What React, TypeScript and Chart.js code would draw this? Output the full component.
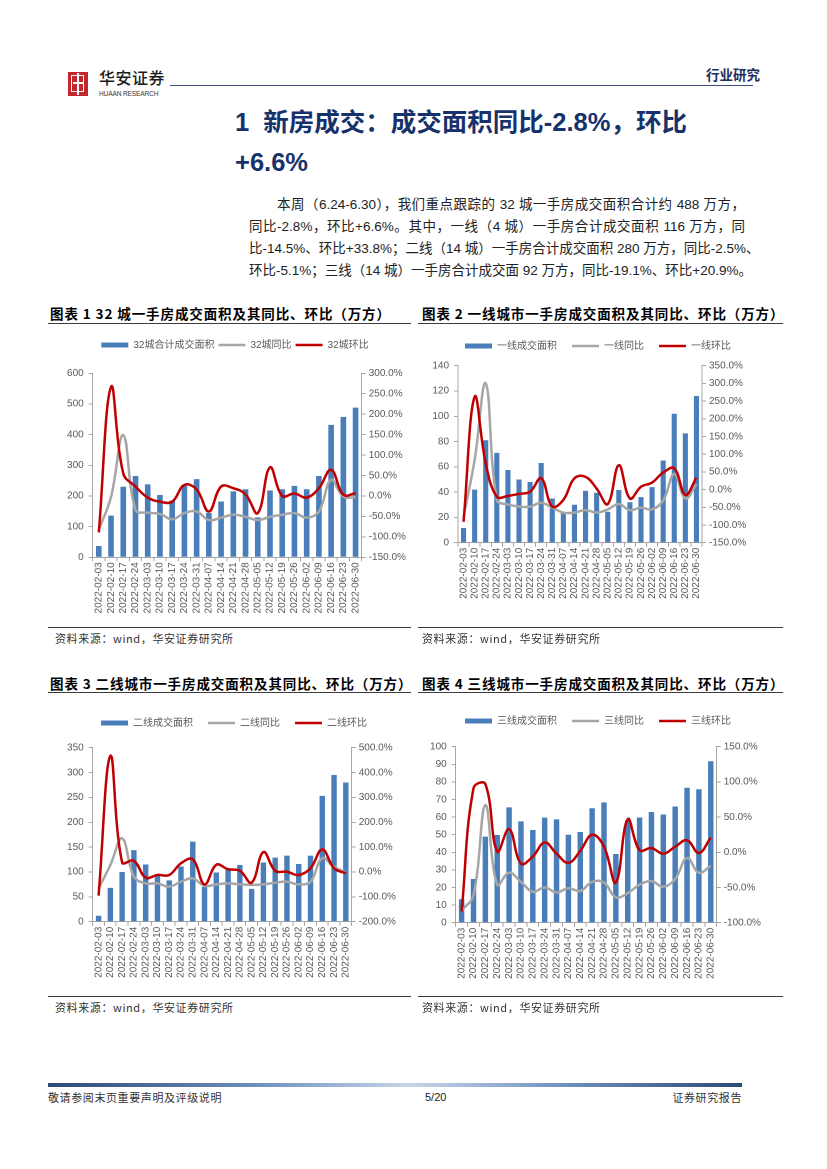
import React, { useEffect, useRef } from "react";
import { Chart, registerables } from "chart.js";
Chart.register(...registerables);

const dates = [
  "2022-02-03", "2022-02-10", "2022-02-17", "2022-02-24", "2022-03-03", "2022-03-10",
  "2022-03-17", "2022-03-24", "2022-03-31", "2022-04-07", "2022-04-14", "2022-04-21",
  "2022-04-28", "2022-05-05", "2022-05-12", "2022-05-19", "2022-05-26", "2022-06-02",
  "2022-06-09", "2022-06-16", "2022-06-23", "2022-06-30",
];

const city32Area = [37, 136, 230, 265, 238, 203, 185, 236, 255, 145, 182, 215, 222, 130, 218, 222, 233, 222, 265, 432, 458, 488];
const city32Yoy = [-83, -2, 149, -34, -41, -44, -57, -42, -38, -59, -53, -46, -51, -59, -51, -46, -42, -53, -38, 39, -2, -2.8];
const city32Mom = [-89, 267, 55, 23, -4, -14, -14, 27, 16, -38, 23, 19, 4, -42, 70, 0, 6, -4, 19, 64, 3, 6.6];

const tier1Area = [11.6, 42, 81, 71, 57.5, 50, 48, 63, 35, 24, 30, 41, 39.5, 24.5, 41.7, 32, 36, 44, 65, 102, 86.5, 116];
const tier1Yoy = [-77, 84, 300, -29, -42, -48, -48, -37, -51, -65, -65, -58, -65, -56, -41, -58, -51, -56, -31, 44, -25, 15];
const tier1Mom = [-91, 262, 74, -20, -18, -12, -6, 32, -48, -29, 32, 36, 3, -41, 69, -25, 8, 20, 48, 60, -15, 33.8];

const tier2Area = [12, 68, 100, 144, 115, 95, 83, 111, 161, 70, 99, 107, 114, 66, 119, 129, 133, 116, 133, 253, 295, 280];
const tier2Yoy = [-66, 28, 135, -19, -46, -46, -59, -39, -26, -56, -50, -46, -50, -52, -50, -43, -39, -50, -39, 55, 21, -2.5];
const tier2Mom = [-95, 467, 39, 45, -23, -12, -12, 35, 51, -50, 29, 11, 5, -43, 80, 5, 1, -12, 15, 91, 15, -5.1];

const tier3Area = [13.3, 24.8, 48.9, 49.8, 65.5, 57.6, 52.7, 59.7, 58.7, 50, 51.5, 65, 68.4, 39, 58, 59.8, 62.9, 61.5, 66, 76.7, 75.8, 91.7];
const tier3Yoy = [-83, -61, 67, -46, -29, -42, -56, -50, -57, -51, -55, -42, -43, -64, -58, -46, -41, -49, -38, -8, -29, -19.1];
const tier3Mom = [-84, 91, 97, 1, 33, -16, -6, 14, -2, -15, 2, 25, 8, -43, 47, 3, 6, -2, 8, 17, -1, 20.9];

const legend1 = ["32城合计成交面积", "32城同比", "32城环比"];
const legend2 = ["一线成交面积", "一线同比", "一线环比"];
const legend3 = ["二线成交面积", "二线同比", "二线环比"];
const legend4 = ["三线成交面积", "三线同比", "三线环比"];

const FONT = "'Liberation Sans', 'Noto Sans CJK SC', sans-serif";
const CJK = "'Noto Sans CJK SC', 'Liberation Sans', sans-serif";
const BAR = "#4a7ebb";
const RED = "#c00000";
const GRAY = "#a6a6a6";
const AXIS = "#a6a6a6";
const TICK = "#595959";

type Props = {
  left: number; right: number; plotLeft: number; plotRight: number;
  plotTop: number; plotBottom: number; legendY: number; legendPad: number;
  names: string[]; bars: number[]; yoy: number[]; mom: number[];
  lMax: number; lStep: number; rMin: number; rMax: number; rStep: number;
};

function ComboChart(p: Props) {
  const ref = useRef<HTMLCanvasElement>(null);
  const T = Math.round(p.legendY - p.legendPad - 5);
  const w = Math.round(p.right - p.left);
  const h = Math.round(p.plotBottom + 62 - T);
  useEffect(() => {
    const extra = p.plotTop - (T + p.legendPad + 20);
    const leftW = p.plotLeft - p.left;
    const rightW = p.left + w - p.plotRight;
    const xH = T + h - p.plotBottom;
    const gap = {
      id: "legendGap",
      beforeInit(chart: any) {
        const lg = chart.legend;
        if (!lg) return;
        const orig = lg.fit;
        lg.fit = function () {
          orig.call(this);
          this.height += extra;
        };
      },
    };
    const tickFont = { family: FONT, size: 10 };
    const chart = new Chart(ref.current as HTMLCanvasElement, {
      type: "bar",
      data: {
        labels: dates,
        datasets: [
          {
            type: "bar", label: p.names[0], data: p.bars, yAxisID: "yL",
            backgroundColor: BAR, borderWidth: 0, barPercentage: 0.5, categoryPercentage: 0.92,
            order: 3, pointStyle: "rect",
          } as any,
          {
            type: "line", label: p.names[1], data: p.yoy, yAxisID: "yR",
            borderColor: GRAY, backgroundColor: GRAY, borderWidth: 2.5, pointRadius: 0,
            pointBorderWidth: 2.5, pointBorderColor: GRAY, pointBackgroundColor: GRAY,
            tension: 0.4, order: 2, pointStyle: "line",
          } as any,
          {
            type: "line", label: p.names[2], data: p.mom, yAxisID: "yR",
            borderColor: RED, backgroundColor: RED, borderWidth: 2.5, pointRadius: 0,
            pointBorderWidth: 2.5, pointBorderColor: RED, pointBackgroundColor: RED,
            tension: 0.4, order: 1, pointStyle: "line",
          } as any,
        ],
      },
      options: {
        responsive: false,
        animation: false,
        devicePixelRatio: 2,
        layout: { padding: 0 },
        plugins: {
          title: { display: false },
          tooltip: { enabled: false },
          legend: {
            display: true,
            position: "top",
            labels: {
              usePointStyle: true,
              pointStyleWidth: 27,
              boxHeight: 5,
              padding: p.legendPad,
              color: TICK,
              font: { family: FONT, size: 10 },
              sort: (a: any, b: any) => a.datasetIndex - b.datasetIndex,
            },
          },
        },
        scales: {
          x: {
            offset: true,
            grid: { display: true, drawOnChartArea: false, drawTicks: true, tickLength: 4, color: AXIS, offset: true },
            border: { display: true, color: AXIS, width: 1 },
            ticks: { autoSkip: false, maxRotation: 90, minRotation: 90, padding: 1, color: TICK, font: tickFont },
            afterFit: (s: any) => { s.height = xH; },
          },
          yL: {
            position: "left",
            min: 0, max: p.lMax,
            grid: { display: true, drawOnChartArea: false, drawTicks: true, tickLength: 4, color: AXIS },
            border: { display: true, color: AXIS, width: 1 },
            ticks: { stepSize: p.lStep, padding: 5, color: TICK, font: tickFont },
            afterFit: (s: any) => { s.width = leftW; },
          },
          yR: {
            position: "right",
            min: p.rMin, max: p.rMax,
            grid: { display: true, drawOnChartArea: false, drawTicks: true, tickLength: 4, color: AXIS },
            border: { display: true, color: AXIS, width: 1 },
            ticks: {
              stepSize: p.rStep, padding: 3, color: TICK, font: tickFont,
              callback: (v: any) => Number(v).toFixed(1) + "%",
            },
            afterFit: (s: any) => { s.width = rightW; },
          },
        },
      } as any,
      plugins: [gap],
    });
    return () => chart.destroy();
  }, []);
  return (
    <canvas
      ref={ref}
      width={w}
      height={h}
      style={{ position: "absolute", left: p.left, top: T, width: w, height: h }}
    />
  );
}

function Txt(props: { x: number; y: number; size: number; children: any; style?: any; lh?: number }) {
  const lh = props.lh || props.size * 1.4;
  return (
    <div
      style={{
        position: "absolute", left: props.x, top: props.y - lh / 2, lineHeight: lh + "px",
        fontSize: props.size, whiteSpace: "nowrap", fontFamily: CJK, color: "#222", ...props.style,
      }}
    >
      {props.children}
    </div>
  );
}

function Rule(props: { x1: number; x2: number; y: number; color?: string; h?: number }) {
  return (
    <div style={{ position: "absolute", left: props.x1, top: props.y, width: props.x2 - props.x1, height: props.h || 1, background: props.color || "#3c3c3c" }} />
  );
}

export default function App() {
  const NAVY = "#17326a";
  const paraStyle = { fontFamily: FONT, color: "#222" };
  const titleStyle = { fontWeight: 700, letterSpacing: "0.9px", color: "#000" };
  const srcStyle = { color: "#333", letterSpacing: "0.6px" };
  const lineBase = { position: "absolute" as const, lineHeight: "22px", fontSize: 13.5, textAlign: "justify" as const, textAlignLast: "justify" as const, whiteSpace: "nowrap" as const, ...paraStyle };
  return (
    <div style={{ position: "absolute", left: 0, top: 0, width: 827, height: 1169, background: "#fff", overflow: "hidden", fontFamily: FONT }}>
      {/* header */}
      <div style={{ position: "absolute", left: 68, top: 72, width: 20, height: 24, background: "#c3262c" }}>
        <div style={{ position: "absolute", left: 3, top: 3, width: 11, height: 15, border: "1.5px solid #fff" }} />
        <div style={{ position: "absolute", left: 9, top: 1, width: 2, height: 22, background: "#fff" }} />
        <div style={{ position: "absolute", left: 5, top: 10, width: 10, height: 2, background: "#fff" }} />
      </div>
      <Txt x={99} y={77} size={16} style={{ color: "#1b1b1b", letterSpacing: "0.5px", fontWeight: 500 }}>华安证券</Txt>
      <Txt x={99} y={94} size={6.5} style={{ fontFamily: FONT, color: "#333", letterSpacing: "-0.1px" }}>HUAAN RESEARCH</Txt>
      <Rule x1={170} x2={753} y={85} color="#3d4b78" h={1.3} />
      <Txt x={706} y={74} size={13.5} style={{ fontWeight: 700, color: "#1f2d5a" }}>行业研究</Txt>

      {/* section title */}
      <Txt x={235} y={123} size={25.5} style={{ fontWeight: 700, color: NAVY, fontFamily: FONT }}>
        1&nbsp;&nbsp;新房成交：成交面积同比-2.8%，环比
      </Txt>
      <Txt x={235} y={163} size={25.5} style={{ fontWeight: 700, color: NAVY, fontFamily: FONT }}>+6.6%</Txt>

      {/* paragraph */}
      <div style={{ ...lineBase, left: 277, top: 205 - 11, width: 468 }}>
        本周（6.24-6.30），我们重点跟踪的 32 城一手房成交面积合计约 488 万方，
      </div>
      <div style={{ ...lineBase, left: 249, top: 227 - 11, width: 496 }}>
        同比-2.8%，环比+6.6%。其中，一线（4 城）一手房合计成交面积 116 万方，同
      </div>
      <div style={{ ...lineBase, left: 249, top: 249 - 11, width: 496 }}>
        比-14.5%、环比+33.8%；二线（14 城）一手房合计成交面积 280 万方，同比-2.5%、
      </div>
      <div style={{ ...lineBase, left: 249, top: 271 - 11, width: 490 }}>
        环比-5.1%；三线（14 城）一手房合计成交面 92 万方，同比-19.1%、环比+20.9%。
      </div>

      {/* chart titles */}
      <Txt x={50} y={313} size={13.5} style={titleStyle}>图表 1 32 城一手房成交面积及其同比、环比（万方）</Txt>
      <Txt x={422} y={313} size={13.5} style={titleStyle}>图表 2 一线城市一手房成交面积及其同比、环比（万方）</Txt>
      <Rule x1={48} x2={411} y={323} h={1.2} />
      <Rule x1={418} x2={783} y={323} h={1.2} />

      <Txt x={50} y={683} size={13.5} style={titleStyle}>图表 3 二线城市一手房成交面积及其同比、环比（万方）</Txt>
      <Txt x={422} y={683} size={13.5} style={titleStyle}>图表 4 三线城市一手房成交面积及其同比、环比（万方）</Txt>
      <Rule x1={48} x2={411} y={692} h={1.2} />
      <Rule x1={418} x2={783} y={692} h={1.2} />

      {/* charts */}
      <ComboChart left={50} right={420} plotLeft={92.7} plotRight={361.7} plotTop={373.3} plotBottom={557.3}
        legendY={345} legendPad={4} names={legend1} bars={city32Area} yoy={city32Yoy} mom={city32Mom}
        lMax={600} lStep={100} rMin={-150} rMax={300} rStep={50} />
      <ComboChart left={415} right={781} plotLeft={458} plotRight={702} plotTop={365.7} plotBottom={542.7}
        legendY={345.7} legendPad={15} names={legend2} bars={tier1Area} yoy={tier1Yoy} mom={tier1Mom}
        lMax={140} lStep={20} rMin={-150} rMax={350} rStep={50} />
      <ComboChart left={50} right={418} plotLeft={92.7} plotRight={351.7} plotTop={747.7} plotBottom={921.7}
        legendY={722.7} legendPad={15} names={legend3} bars={tier2Area} yoy={tier2Yoy} mom={tier2Mom}
        lMax={350} lStep={50} rMin={-200} rMax={500} rStep={100} />
      <ComboChart left={415} right={781} plotLeft={455.7} plotRight={716.7} plotTop={746.7} plotBottom={922.7}
        legendY={720.7} legendPad={15} names={legend4} bars={tier3Area} yoy={tier3Yoy} mom={tier3Mom}
        lMax={100} lStep={10} rMin={-100} rMax={150} rStep={50} />

      {/* sources */}
      <Rule x1={48} x2={411} y={627} h={1.2} />
      <Rule x1={418} x2={783} y={627} h={1.2} />
      <Txt x={55} y={639} size={11} style={srcStyle}>资料来源：wind，华安证券研究所</Txt>
      <Txt x={422} y={639} size={11} style={srcStyle}>资料来源：wind，华安证券研究所</Txt>
      <Rule x1={48} x2={411} y={996} h={1.2} />
      <Rule x1={418} x2={783} y={996} h={1.2} />
      <Txt x={55} y={1008} size={11} style={srcStyle}>资料来源：wind，华安证券研究所</Txt>
      <Txt x={422} y={1008} size={11} style={srcStyle}>资料来源：wind，华安证券研究所</Txt>

      {/* footer */}
      <div style={{ position: "absolute", left: 48, top: 1083, width: 694, height: 4, background: "linear-gradient(to right, #2d4a78 0%, #6d8fbd 30%, #c7d5e8 52%, #6d8fbd 75%, #2d4a78 100%)" }} />
      <Txt x={48} y={1098} size={11} style={srcStyle}>敬请参阅末页重要声明及评级说明</Txt>
      <Txt x={425} y={1098} size={11} style={{ fontFamily: FONT, color: "#222" }}>5/20</Txt>
      <div style={{ position: "absolute", left: 600, width: 142, top: 1098 - 7.7, lineHeight: "15.4px", fontSize: 11, textAlign: "right", fontFamily: CJK, color: "#333", letterSpacing: "0.6px" }}>证券研究报告</div>
    </div>
  );
}
